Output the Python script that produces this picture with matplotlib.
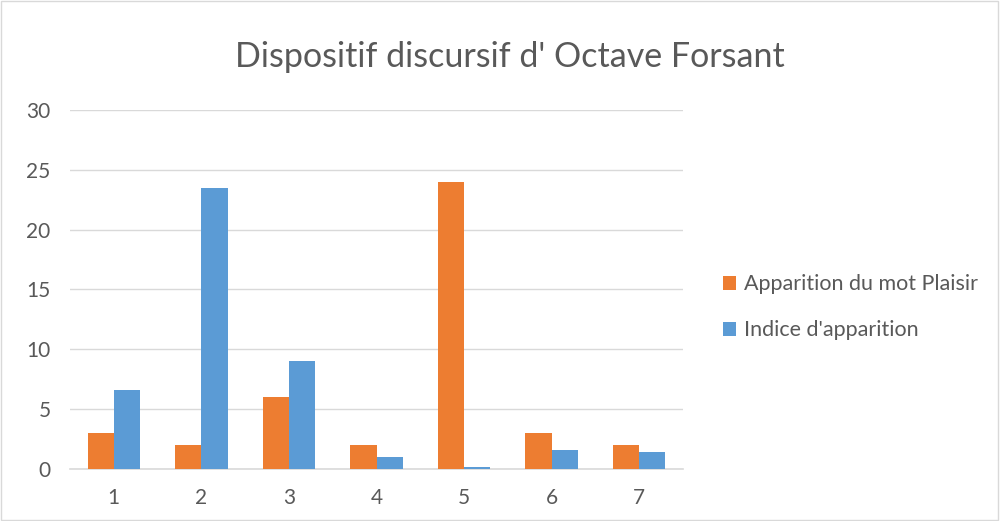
import numpy as np
import matplotlib.pyplot as plt
from matplotlib.patches import Rectangle

categories = ['1', '2', '3', '4', '5', '6', '7']
plaisir = [3, 2, 6, 2, 24, 3, 2]
indice = [6.6, 23.5, 9, 1, 0.17, 1.6, 1.45]
yticks = [0, 5, 10, 15, 20, 25, 30]

plt.rcParams['font.family'] = ['Lato', 'DejaVu Sans']
text_color = '#595959'

fig = plt.figure(figsize=(10, 5.21), dpi=100)
ax = fig.add_axes([0.070, 0.100, 0.613, 0.689])

x = np.arange(1, len(categories) + 1)
w = 0.3
ax.bar(x - w / 2, plaisir, w, color='#ED7D31', label='Apparition du mot Plaisir', zorder=3)
ax.bar(x + w / 2, indice, w, color='#5B9BD5', label="Indice d'apparition", zorder=3)

ax.set_xlim(0.5, 7.5)
ax.set_ylim(0, 30)
ax.set_yticks(yticks)
ax.set_xticks(x)
ax.set_xticklabels(categories)
ax.tick_params(axis='both', length=0, labelsize=15, colors=text_color)
ax.tick_params(axis='y', pad=14)
ax.tick_params(axis='x', pad=14)
ax.yaxis.grid(True, color='#D9D9D9', linewidth=1, zorder=0)
for s in ['top', 'right', 'left']:
    ax.spines[s].set_visible(False)
ax.spines['bottom'].set_color('#D9D9D9')
ax.spines['bottom'].set_linewidth(1.2)

fig.text(0.51, 0.89, "Dispositif discursif d' Octave Forsant", ha='center', va='center',
         fontsize=24.5, color=text_color)

leg = fig.legend(loc='center left', bbox_to_anchor=(0.704, 0.41), frameon=False,
                 fontsize=15.5, labelspacing=1.2, handlelength=0.6, handleheight=0.6,
                 handletextpad=0.35)
for t in leg.get_texts():
    t.set_color(text_color)

fig.patches.append(Rectangle((0.001, 0.002), 0.997, 0.996, transform=fig.transFigure,
                             fill=False, edgecolor='#D9D9D9', linewidth=1))

fig.savefig('out.png', dpi=100)
